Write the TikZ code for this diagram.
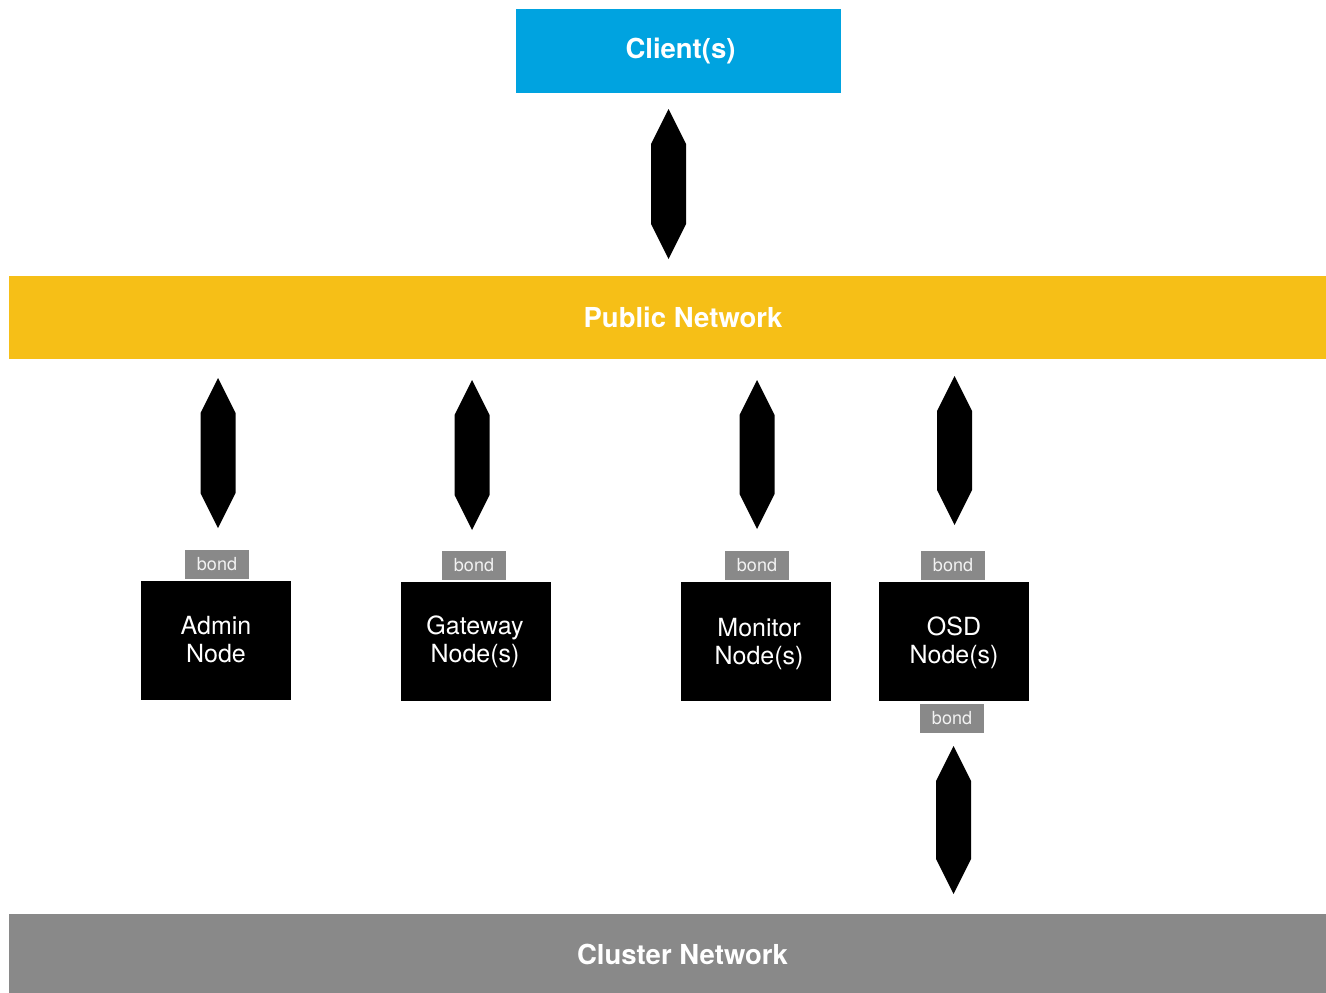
\documentclass[tikz,border=0pt]{standalone}
\usepackage{fontspec}
\setmainfont{TeX Gyre Heros}
\definecolor{clientblue}{HTML}{00A3E0}
\definecolor{pubyellow}{HTML}{F6BF17}
\definecolor{clgray}{HTML}{898989}
\definecolor{bondtxt}{HTML}{F2F2F2}
\newcommand\dbarrow[3]{\fill[black] (#1-17.5,#2+35) -- (#1,#2) -- (#1+17.5,#2+35) -- (#1+17.5,#3-35) -- (#1,#3) -- (#1-17.5,#3-35) -- cycle;}
\begin{document}
\begin{tikzpicture}[x=1pt,y=-1pt,
  bar/.style={rectangle, inner sep=0pt, outer sep=0pt, draw=none},
  bartext/.style={text=white, font=\fontsize{27.5}{32}\selectfont\bfseries, inner sep=0pt},
  hostbox/.style={rectangle, fill=black, minimum width=150pt, minimum height=119pt, inner sep=0pt},
  hosttext/.style={text=white, align=center, inner sep=0pt, font=\fontsize{25}{28}\selectfont},
  bondbox/.style={rectangle, fill=clgray, minimum width=64pt, minimum height=29pt, inner sep=0pt, text=bondtxt, font=\fontsize{18}{20}\selectfont}
]
\useasboundingbox (0,0) rectangle (1326,993);
% bars
\node[bar, fill=clientblue, minimum width=325pt, minimum height=84pt] (client) at (678.5,51) {};
\node[bartext] (clienttxt) at (680.5,51) {Client(s)};
\node[bar, fill=pubyellow, minimum width=1317pt, minimum height=83pt] (pub) at (667.5,317.5) {};
\node[bartext] (pubtxt) at (683,317) {Public Network};
\node[bar, fill=clgray, minimum width=1317pt, minimum height=79pt] (cluster) at (667.5,953.5) {};
\node[bartext] (clustertxt) at (682.5,954) {Cluster Network};
% hosts
\node[hostbox] (admin) at (216,640.5) {};
\node[hosttext] (admintxt) at (216,639.5) {Admin\\Node};
\node[hostbox] (gateway) at (476,641.5) {};
\node[hosttext] (gatewaytxt) at (475,642) {Gateway\\Node(s)};
\node[hostbox] (monitor) at (756,641.5) {};
\node[hosttext] (monitortxt) at (759,644) {Monitor\\Node(s)};
\node[hostbox] (osd) at (954,641.5) {};
\node[hosttext] (osdtxt) at (954,642.5) {OSD\\Node(s)};
% bonds
\node[bondbox] (bondA) at (217,564.5) {bond};
\node[bondbox] (bondG) at (474,565.5) {bond};
\node[bondbox] (bondM) at (757,565.5) {bond};
\node[bondbox] (bondO) at (953,565.5) {bond};
\node[bondbox] (bondOc) at (952,718.5) {bond};
% connectors (double block arrows)
\dbarrow{668.5}{109}{259}
\dbarrow{218}{378}{528}
\dbarrow{472}{380}{530}
\dbarrow{757}{380}{529}
\dbarrow{954.5}{376}{525}
\dbarrow{953.5}{746}{894}
\end{tikzpicture}
\end{document}
